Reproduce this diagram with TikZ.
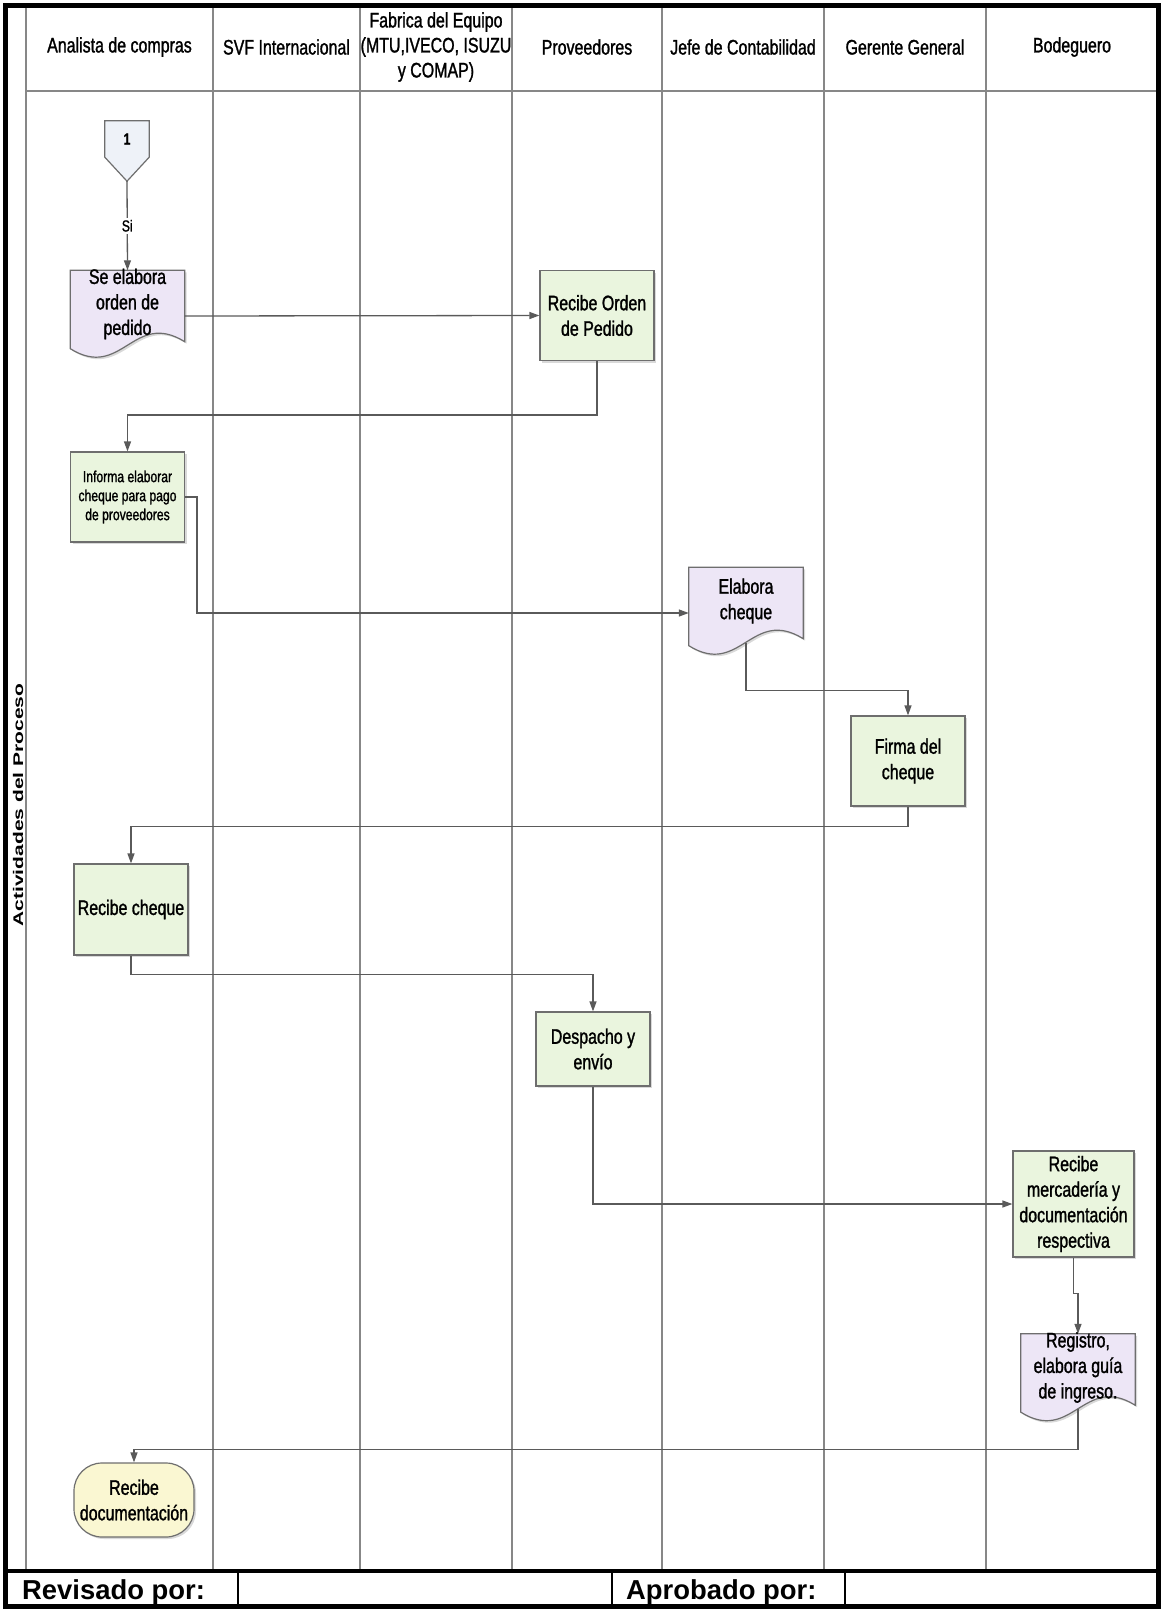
\documentclass[tikz,border=0pt]{standalone}
\usepackage{fontspec}
\setmainfont{Liberation Sans}
\newfontfamily\narrowfont{Liberation Sans}[FakeStretch=0.76,FakeBold=1.3]
\newfontfamily\widefont{Liberation Sans}[FakeStretch=1.5]
\usetikzlibrary{positioning,calc,arrows.meta,shadows}

\definecolor{procfill}{RGB}{234,245,222}
\definecolor{docfill}{RGB}{237,230,246}
\definecolor{termfill}{RGB}{250,247,210}
\definecolor{connfill}{RGB}{238,242,248}
\definecolor{shapeline}{RGB}{110,110,110}
\definecolor{flowline}{RGB}{90,90,90}
\definecolor{laneline}{RGB}{135,135,135}

\newcommand{\headfont}{\narrowfont\fontsize{21}{25}\selectfont}
\newcommand{\boxfont}{\narrowfont\fontsize{21}{25.5}\selectfont}
\newcommand{\smallboxfont}{\narrowfont\fontsize{16}{19}\selectfont}
\newcommand{\tagfont}{\narrowfont\fontsize{16}{18}\selectfont}

% document symbol drawn around an (empty) frame node
\newcommand{\docoutline}[1]{%
  \draw[docshape] (#1.north west) -- (#1.north east)
    -- ($(#1.south east)+(0,-20)$)
    .. controls ($(#1.south west)!0.55!(#1.south east)+(0,-52)$)
       and ($(#1.south west)!0.45!(#1.south east)+(0,19)$)
    .. ($(#1.south west)+(0,-13)$) -- cycle;
}

\begin{document}
\begin{tikzpicture}[
    x=1pt, y=-1pt,
    every node/.style={inner sep=0pt},
    lane/.style={draw=laneline, line width=1.5pt},
    head/.style={align=center, font=\headfont},
    proc/.style={rectangle, draw=shapeline, line width=1.2pt, fill=procfill,
        minimum width=114pt, minimum height=90pt, align=center, font=\boxfont,
        drop shadow={shadow xshift=2pt, shadow yshift=-2pt, opacity=0.3}},
    docbody/.style={rectangle, minimum width=114pt, minimum height=91pt},
    docshape/.style={draw=shapeline, line width=1.2pt, fill=docfill,
        drop shadow={shadow xshift=2pt, shadow yshift=-2pt, opacity=0.3}},
    doctext/.style={align=center, font=\boxfont},
    term/.style={rectangle, rounded corners=28pt, draw=shapeline, line width=1.2pt,
        fill=termfill, minimum width=120pt, minimum height=74pt, align=center,
        font=\boxfont, drop shadow={shadow xshift=2pt, shadow yshift=-2pt, opacity=0.3}},
    connshape/.style={draw=shapeline, line width=1.2pt, fill=connfill},
    flow/.style={draw=flowline, line width=1.3pt, -{Triangle[length=10pt,width=7pt]}},
    foot/.style={anchor=west, font=\bfseries\fontsize{27.4}{30}\selectfont}
]
\useasboundingbox (0,0) rectangle (1161,1609);

% Lanes
\draw[lane] (26,5) -- (26,1570);
\foreach \x in {213,360,512,662,824,986} {
    \draw[lane] (\x,5) -- (\x,1570);
}
\draw[draw=laneline, line width=2.5pt] (26,91) -- (1158,91);

% Frame and footer
\draw[line width=5pt] (5.5,5.5) rectangle (1158.5,1606.5);
\draw[line width=4pt] (5.5,1570.5) -- (1158.5,1570.5);
\foreach \x in {238,612,845} {
    \draw[line width=2pt] (\x,1570) -- (\x,1606);
}
\node[foot] (revisado) at (22,1592) {Revisado por:};
\node[foot] (aprobado) at (626,1592) {Aprobado por:};

% Lane titles
\node[head] (h-analista) at (119.5,47) {Analista de compras};
\node[head] (h-svf) at (286.5,47) {SVF Internacional};
\node[head] (h-fabrica) at (436,47) {Fabrica del Equipo\\(MTU,IVECO, ISUZU\\y COMAP)};
\node[head] (h-proveedores) at (587,47) {Proveedores};
\node[head] (h-contabilidad) at (743,47) {Jefe de Contabilidad};
\node[head] (h-gerente) at (905,47) {Gerente General};
\node[head] (h-bodeguero) at (1072,47) {Bodeguero};

\node[rotate=90, font=\widefont\bfseries\fontsize{14}{16}\selectfont] (actividades) at (18,805) {Actividades del Proceso};

% Off-page connector
\node[minimum width=44pt, minimum height=36pt] (uno) at (127,139) {};
\draw[connshape] (uno.north west) -- (uno.north east) -- (uno.south east)
    -- ($(uno.south)+(0,24)$) coordinate (uno-tip) -- (uno.south west) -- cycle;
\node[font=\tagfont\bfseries] (uno-t) at (uno) {1};

% Shapes
\node[docbody] (pedido) at (127.5,316) {};
\docoutline{pedido}
\node[doctext] (pedido-t) at ([yshift=12pt]pedido.center) {Se elabora\\orden de\\pedido};

\node[proc] (orden) at (597,315.5) {Recibe Orden\\de Pedido};

\node[proc, font=\smallboxfont] (informa) at (127.5,497) {Informa elaborar\\cheque para pago\\de proveedores};

\node[docbody] (elabora) at (746,613) {};
\docoutline{elabora}
\node[doctext] (elabora-t) at ([yshift=12pt]elabora.center) {Elabora\\cheque};

\node[proc] (firma) at (908,761) {Firma del\\cheque};

\node[proc, minimum height=91pt] (cheque) at (131,909.5) {Recibe cheque};

\node[proc, minimum height=74pt] (despacho) at (593,1049) {Despacho y\\env\'io};

\node[proc, minimum width=121pt, minimum height=106pt] (mercaderia) at (1073.5,1204) {Recibe\\mercader\'ia y\\documentaci\'on\\respectiva};

\node[docbody] (registro) at (1078,1379.5) {};
\docoutline{registro}
\node[doctext] (registro-t) at ([yshift=12pt]registro.center) {Registro,\\elabora gu\'ia\\de ingreso.};

\node[term] (documentacion) at (134,1500) {Recibe\\documentaci\'on};

% Flow
\draw[flow] (uno-tip) -- node[fill=white, inner sep=2pt, font=\tagfont] (si) {Si} (pedido.north);
\draw[flow] (pedido.east) -- (orden.west);
\draw[flow] (orden.south) -- ++(0,54) -| (informa.north);
\draw[flow] (informa.east) -- ++(12,0) |- (elabora.west);
\draw[flow] ([yshift=16pt]elabora.south) -- ++(0,48) -| (firma.north);
\draw[flow] (firma.south) -- ++(0,20) -| (cheque.north);
\draw[flow] (cheque.south) -- ++(0,19) -| (despacho.north);
\draw[flow] (despacho.south) |- (mercaderia.west);
\draw[flow] (mercaderia.south) -- ++(0,36) -| (registro.north);
\draw[flow] ([yshift=16pt]registro.south) -- ++(0,40.5) -| (documentacion.north);

\end{tikzpicture}
\end{document}
